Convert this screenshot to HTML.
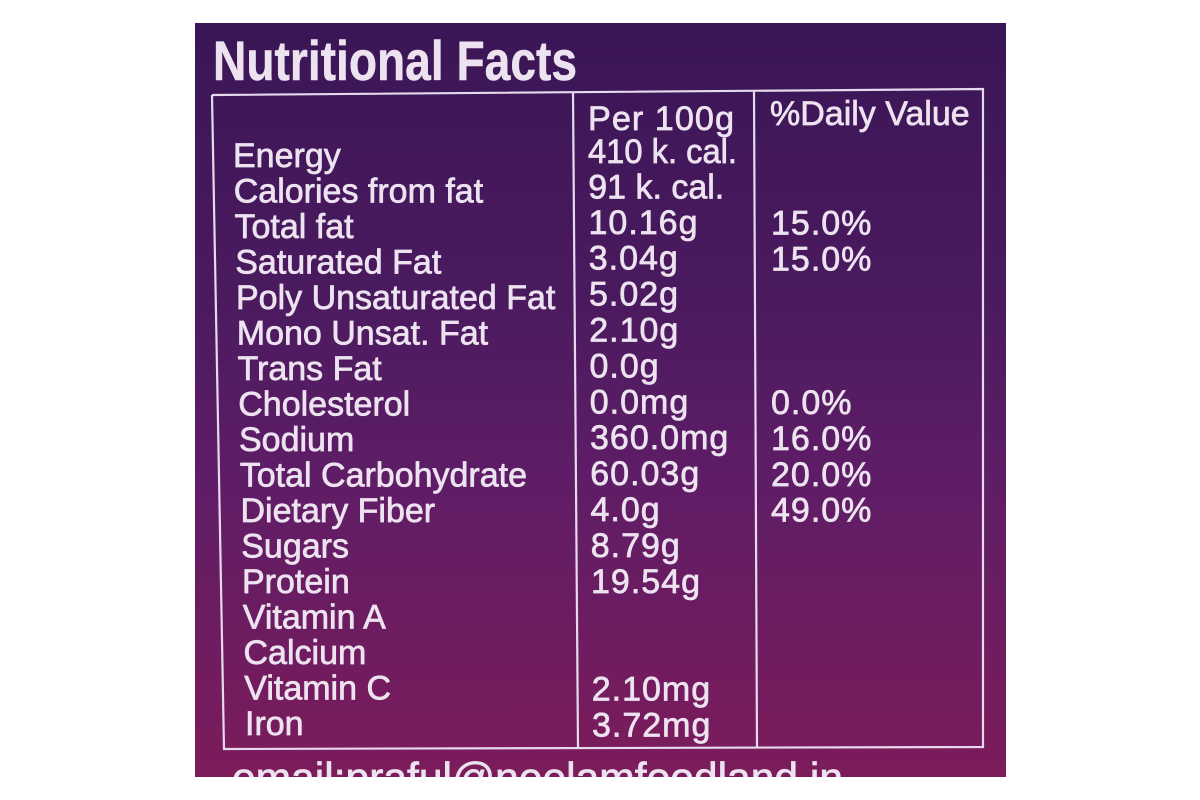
<!DOCTYPE html>
<html>
<head>
<meta charset="utf-8">
<style>
  html,body{margin:0;padding:0;background:#ffffff;}
  body{width:1200px;height:800px;overflow:hidden;}
  svg{display:block;}
  text{font-family:"Liberation Sans", Arial, sans-serif;fill:#ede3f0;stroke:#ede3f0;stroke-width:0.7px;}
  .lbl{font-size:34px;}
  .val{font-size:34px;letter-spacing:1px;}
  .dv{font-size:34px;letter-spacing:1px;}
</style>
</head>
<body>
<svg width="1200" height="800" viewBox="0 0 1200 800" xmlns="http://www.w3.org/2000/svg">
  <defs>
    <linearGradient id="bg" x1="0" y1="0" x2="0" y2="1">
      <stop offset="0" stop-color="#3a1656"/>
      <stop offset="0.35" stop-color="#4a1a5e"/>
      <stop offset="0.6" stop-color="#5e1d66"/>
      <stop offset="1" stop-color="#7c1c5b"/>
    </linearGradient>
    <clipPath id="panel">
      <rect x="195" y="23" width="811" height="754"/>
    </clipPath>
  </defs>

  <rect x="195" y="23" width="811" height="754" fill="url(#bg)"/>

  <g clip-path="url(#panel)">
    <!-- Title -->
    <text x="213" y="80" font-size="56" font-weight="bold" textLength="364" lengthAdjust="spacingAndGlyphs" style="stroke-width:0.5px">Nutritional Facts</text>

    <!-- Table borders -->
    <g stroke="#e6d9ee" stroke-width="2.2" fill="none">
      <polyline points="212,95 983,89 983,747 224,749 212,95"/>
      <line x1="573" y1="93" x2="578" y2="748"/>
      <line x1="754" y1="91" x2="757" y2="748"/>
    </g>

    <!-- Headers -->
    <text class="val" x="588" y="130" textLength="147" lengthAdjust="spacingAndGlyphs">Per 100g</text>
    <text class="lbl" x="770" y="125">%Daily Value</text>

    <!-- Left labels -->
    <text class="lbl" x="233" y="167">Energy</text>
    <text class="lbl" x="233.75" y="202.5">Calories from fat</text>
    <text class="lbl" x="234.5" y="238">Total fat</text>
    <text class="lbl" x="235.25" y="273.5">Saturated Fat</text>
    <text class="lbl" x="236" y="309">Poly Unsaturated Fat</text>
    <text class="lbl" x="236.75" y="344.5">Mono Unsat. Fat</text>
    <text class="lbl" x="237.5" y="380">Trans Fat</text>
    <text class="lbl" x="238.25" y="415.5">Cholesterol</text>
    <text class="lbl" x="239" y="451">Sodium</text>
    <text class="lbl" x="239.75" y="486.5">Total Carbohydrate</text>
    <text class="lbl" x="240.5" y="522">Dietary Fiber</text>
    <text class="lbl" x="241.25" y="557.5">Sugars</text>
    <text class="lbl" x="242" y="593">Protein</text>
    <text class="lbl" x="242.75" y="628.5">Vitamin A</text>
    <text class="lbl" x="243.5" y="664">Calcium</text>
    <text class="lbl" x="244.25" y="699.5">Vitamin C</text>
    <text class="lbl" x="245" y="735">Iron</text>

    <!-- Per 100g values -->
    <text class="lbl" x="588" y="163" textLength="149" lengthAdjust="spacingAndGlyphs">410 k. cal.</text>
    <text class="lbl" x="588.25" y="198.5" textLength="136" lengthAdjust="spacingAndGlyphs">91 k. cal.</text>
    <text class="val" x="588.5" y="233.8">10.16g</text>
    <text class="val" x="588.75" y="269.7">3.04g</text>
    <text class="val" x="589" y="305.6">5.02g</text>
    <text class="val" x="589.25" y="341.5">2.10g</text>
    <text class="val" x="589.5" y="377.4">0.0g</text>
    <text class="val" x="589.75" y="413.3">0.0mg</text>
    <text class="val" x="590" y="449.2">360.0mg</text>
    <text class="val" x="590.25" y="485.1">60.03g</text>
    <text class="val" x="590.5" y="521">4.0g</text>
    <text class="val" x="590.75" y="556.9">8.79g</text>
    <text class="val" x="591" y="592.8">19.54g</text>
    <text class="val" x="591.75" y="700.5">2.10mg</text>
    <text class="val" x="592" y="736.4">3.72mg</text>

    <!-- Daily values -->
    <text class="dv" x="771" y="234.5">15.0%</text>
    <text class="dv" x="771" y="270.4">15.0%</text>
    <text class="dv" x="771" y="414">0.0%</text>
    <text class="dv" x="771" y="449.9">16.0%</text>
    <text class="dv" x="771" y="485.8">20.0%</text>
    <text class="dv" x="771" y="521.7">49.0%</text>

    <!-- Email (clipped) -->
    <text x="232" y="792" font-size="42" textLength="611" lengthAdjust="spacingAndGlyphs">email:praful@neelamfoodland.in</text>
  </g>
</svg>
</body>
</html>
